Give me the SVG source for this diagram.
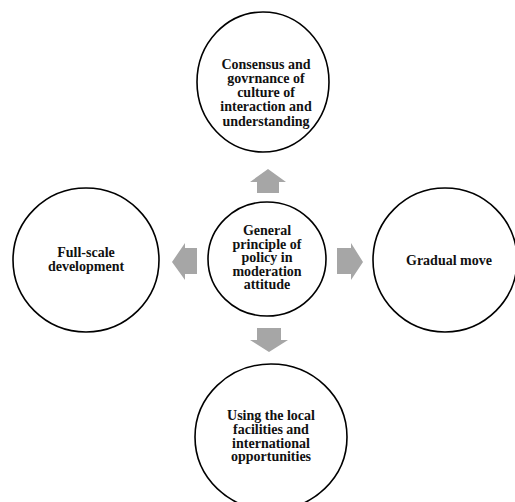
<svg xmlns="http://www.w3.org/2000/svg" width="515" height="502" viewBox="0 0 515 502">
<style>
.node{fill:#fff;stroke:#000;stroke-width:1.6}
.arrow{fill:#a6a6a6;stroke:none}
text{font-family:"Liberation Serif","Times New Roman",serif;font-weight:bold;font-size:14px;fill:#111;text-anchor:middle}
</style>
<rect width="515" height="502" fill="#fff"/>
<g id="connectors">
<path class="arrow" d="M268,169 L286,182 L279,182 L279,193 L257,193 L257,182 L250,182 Z"/>
<path class="arrow" d="M269,352 L288,340 L281,340 L281,328 L257,328 L257,340 L250,340 Z"/>
<path class="arrow" d="M363,262 L351,243 L351,248 L337,248 L337,274 L351,274 L351,280 Z"/>
<path class="arrow" d="M172,262 L185,243 L185,248 L197,248 L197,274 L185,274 L185,280 Z"/>
</g>
<g id="top">
<ellipse class="node" cx="263" cy="82" rx="66" ry="70"/>
<text x="266" y="69">Consensus and</text>
<text x="266" y="83">govrnance of</text>
<text x="266" y="97">culture of</text>
<text x="266" y="111">interaction and</text>
<text x="266" y="126">understanding</text>
</g>
<g id="center">
<ellipse class="node" cx="267" cy="259" rx="59" ry="57"/>
<text x="267" y="235">General</text>
<text x="267" y="248.5">principle of</text>
<text x="267" y="262">policy in</text>
<text x="267" y="275.5">moderation</text>
<text x="267" y="289">attitude</text>
</g>
<g id="left">
<ellipse class="node" cx="86" cy="260" rx="73" ry="72"/>
<text x="86" y="257">Full-scale</text>
<text x="86" y="271">development</text>
</g>
<g id="right">
<ellipse class="node" cx="445" cy="260" rx="72" ry="72"/>
<text x="449" y="265">Gradual move</text>
</g>
<g id="bottom">
<ellipse class="node" cx="271" cy="437" rx="76" ry="73"/>
<text x="271" y="420">Using the local</text>
<text x="271" y="434">facilities and</text>
<text x="271" y="447.5">international</text>
<text x="271" y="461">opportunities</text>
</g>
</svg>
